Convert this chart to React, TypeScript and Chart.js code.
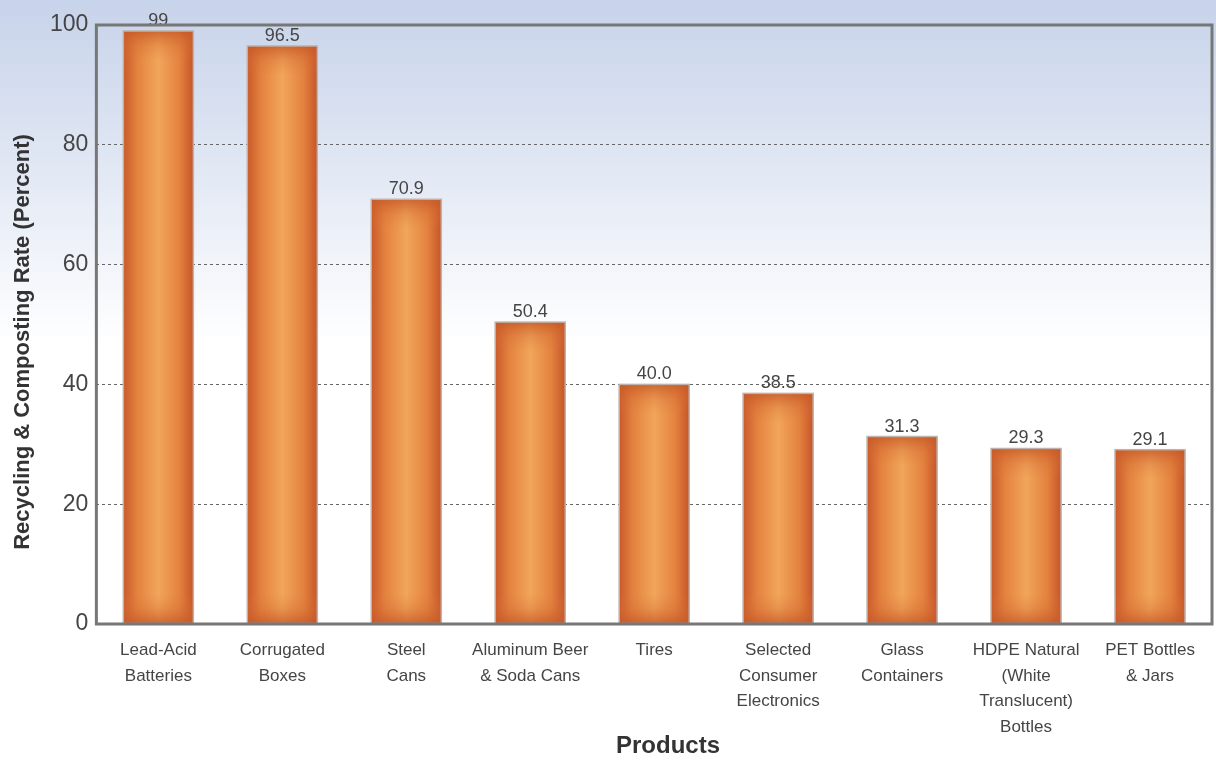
import React, { useEffect, useRef } from "react";
import { Chart, registerables } from "chart.js";

Chart.register(...registerables);

const categories: string[][] = [
  ["Lead-Acid", "Batteries"],
  ["Corrugated", "Boxes"],
  ["Steel", "Cans"],
  ["Aluminum Beer", "& Soda Cans"],
  ["Tires"],
  ["Selected", "Consumer", "Electronics"],
  ["Glass", "Containers"],
  ["HDPE Natural", "(White", "Translucent)", "Bottles"],
  ["PET Bottles", "& Jars"],
];
const rates: number[] = [99, 96.5, 70.9, 50.4, 40.0, 38.5, 31.3, 29.3, 29.1];
const rateLabels: string[] = ["99", "96.5", "70.9", "50.4", "40.0", "38.5", "31.3", "29.3", "29.1"];
const yTicks: number[] = [0, 20, 40, 60, 80, 100];
const yTitle = "Recycling & Composting Rate (Percent)";
const xTitle = "Products";

const FONT = "'Liberation Sans', Arial, sans-serif";

const bgPlugin = {
  id: "bgPlugin",
  beforeDraw(chart: any) {
    const { ctx, width, height } = chart;
    ctx.save();
    const g = ctx.createLinearGradient(0, 0, 0, height);
    g.addColorStop(0, "#c7d3ea");
    g.addColorStop(0.2, "#dfe6f3");
    g.addColorStop(0.45, "#ffffff");
    g.addColorStop(1, "#ffffff");
    ctx.fillStyle = g;
    ctx.fillRect(0, 0, width, height);
    ctx.restore();
  },
};

const barStylePlugin = {
  id: "barStyle",
  afterDatasetsDraw(chart: any) {
    const { ctx } = chart;
    const meta = chart.getDatasetMeta(0);
    ctx.save();
    meta.data.forEach((bar: any, i: number) => {
      const { x, y, base, width } = bar.getProps(["x", "y", "base", "width"], true);
      const left = x - width / 2;
      const top = Math.min(y, base);
      const h = Math.abs(base - y);
      const hg = ctx.createLinearGradient(left, 0, left + width, 0);
      hg.addColorStop(0, "#c95a2a");
      hg.addColorStop(0.2, "#e4823f");
      hg.addColorStop(0.5, "#f1a65a");
      hg.addColorStop(0.8, "#e4823f");
      hg.addColorStop(1, "#c65528");
      ctx.fillStyle = hg;
      ctx.fillRect(left, top, width, h);
      const edge = Math.min(30, h / 3);
      const tg = ctx.createLinearGradient(0, top, 0, top + edge);
      tg.addColorStop(0, "rgba(198,88,40,0.8)");
      tg.addColorStop(0.5, "rgba(210,105,50,0.3)");
      tg.addColorStop(1, "rgba(220,120,60,0)");
      ctx.fillStyle = tg;
      ctx.fillRect(left, top, width, edge);
      const bg = ctx.createLinearGradient(0, base - edge, 0, base);
      bg.addColorStop(0, "rgba(220,120,60,0)");
      bg.addColorStop(0.5, "rgba(210,105,50,0.3)");
      bg.addColorStop(1, "rgba(198,88,40,0.8)");
      ctx.fillStyle = bg;
      ctx.fillRect(left, base - edge, width, edge);
      ctx.strokeStyle = "#bdb3ad";
      ctx.lineWidth = 1.5;
      ctx.strokeRect(left, top, width, h);
      ctx.fillStyle = "#454545";
      ctx.font = `18px ${FONT}`;
      ctx.textAlign = "center";
      ctx.textBaseline = "alphabetic";
      ctx.fillText(rateLabels[i], x, top - 5);
    });
    ctx.restore();
  },
  afterDraw(chart: any) {
    const { ctx, chartArea } = chart;
    ctx.save();
    ctx.strokeStyle = "#777777";
    ctx.lineWidth = 3;
    ctx.strokeRect(chartArea.left, chartArea.top, chartArea.right - chartArea.left, chartArea.bottom - chartArea.top);
    ctx.fillStyle = "#333333";
    ctx.textAlign = "center";
    ctx.textBaseline = "middle";
    ctx.font = `bold 24px ${FONT}`;
    ctx.fillText(xTitle, 668, 746);
    ctx.translate(23, 342);
    ctx.rotate(-Math.PI / 2);
    ctx.font = `bold 22px ${FONT}`;
    ctx.fillText(yTitle, 0, 0);
    ctx.restore();
  },
};

export default function App() {
  const ref = useRef<HTMLCanvasElement | null>(null);
  useEffect(() => {
    document.body.style.margin = "0";
    const canvas = ref.current;
    if (!canvas) return;
    const chart = new Chart(canvas, {
      type: "bar",
      data: {
        labels: categories,
        datasets: [
          {
            data: rates,
            backgroundColor: "#e8904a",
            borderWidth: 0,
            barPercentage: 0.565,
            categoryPercentage: 1,
          },
        ],
      },
      options: {
        animation: false,
        responsive: false,
        maintainAspectRatio: false,
        layout: { padding: { top: 25, right: 4, left: 42, bottom: 18 } },
        plugins: {
          legend: { display: false },
          tooltip: { enabled: false },
        },
        scales: {
          x: {
            grid: { display: false },
            border: { display: false },
            ticks: {
              color: "#454545",
              font: { family: FONT, size: 17, lineHeight: 1.5 },
              padding: 6,
              maxRotation: 0,
              autoSkip: false,
            },
          },
          y: {
            min: 0,
            max: 100,
            afterBuildTicks: (scale: any) => {
              scale.ticks = yTicks.map((v) => ({ value: v }));
            },
            grid: { color: "#666666", lineWidth: 1, drawTicks: false },
            border: { display: false, dash: [3, 3] },
            ticks: {
              color: "#454545",
              font: { family: FONT, size: 23 },
              padding: 8,
            },
          },
        },
      },
      plugins: [bgPlugin, barStylePlugin],
    } as any);
    return () => chart.destroy();
  }, []);
  return <canvas ref={ref} width={1216} height={764} style={{ display: "block" }} />;
}
